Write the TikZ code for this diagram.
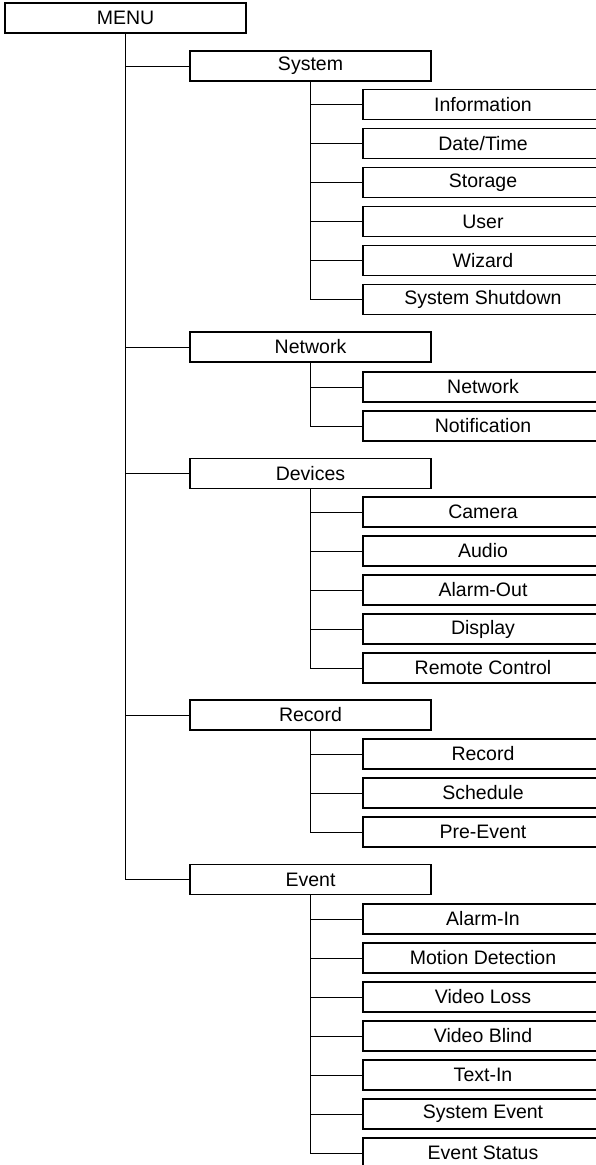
\documentclass[tikz,border=0pt]{standalone}
\usepackage{fontspec}
\setmainfont{Liberation Sans}

\begin{document}
\begin{tikzpicture}[x=1pt,y=-1pt,
  box/.style={draw,line width=1.2pt,inner sep=0pt,minimum height=30pt,
    font=\fontsize{19.5}{22}\selectfont},
  mbox/.style={box,minimum width=241pt},
  leaf/.style={box,minimum width=240pt},
  link/.style={line width=1pt}]
  \useasboundingbox (0,0) rectangle (596,1165);
  \clip (0,0) rectangle (596,1165);
  % Root
  \node[mbox] (menu) at (125.5,18) {MENU};
  % Groups
  \node[mbox] (sys) at (310.5,66) {System};
  \node[mbox] (net) at (310.5,347) {Network};
  \node[mbox] (dev) at (310.5,473.5) {Devices};
  \node[mbox] (rec) at (310.5,715) {Record};
  \node[mbox] (evt) at (310.5,879.5) {Event};
  \foreach \g in {sys,net,dev,rec,evt}
    \draw[link] (menu.south) |- (\g.west);
  % System entries
  \foreach \t [count=\i] in {Information,Date/Time,Storage,User,Wizard,System Shutdown} {
    \node[leaf] (sys\i) at (483,65.5+39*\i) {\t};
    \draw[link] (sys.south) |- (sys\i.west);
  }
  % Network entries
  \foreach \t [count=\i] in {Network,Notification} {
    \node[leaf] (net\i) at (483,348+39*\i) {\t};
    \draw[link] (net.south) |- (net\i.west);
  }
  % Devices entries
  \foreach \t [count=\i] in {Camera,Audio,Alarm-Out,Display,Remote Control} {
    \node[leaf] (dev\i) at (483,473+39*\i) {\t};
    \draw[link] (dev.south) |- (dev\i.west);
  }
  % Record entries
  \foreach \t [count=\i] in {Record,Schedule,Pre-Event} {
    \node[leaf] (rec\i) at (483,715+39*\i) {\t};
    \draw[link] (rec.south) |- (rec\i.west);
  }
  % Event entries
  \foreach \t [count=\i] in {Alarm-In,Motion Detection,Video Loss,Video Blind,Text-In,System Event,Event Status} {
    \node[leaf] (evt\i) at (483,880+39*\i) {\t};
    \draw[link] (evt.south) |- (evt\i.west);
  }
\end{tikzpicture}
\end{document}
